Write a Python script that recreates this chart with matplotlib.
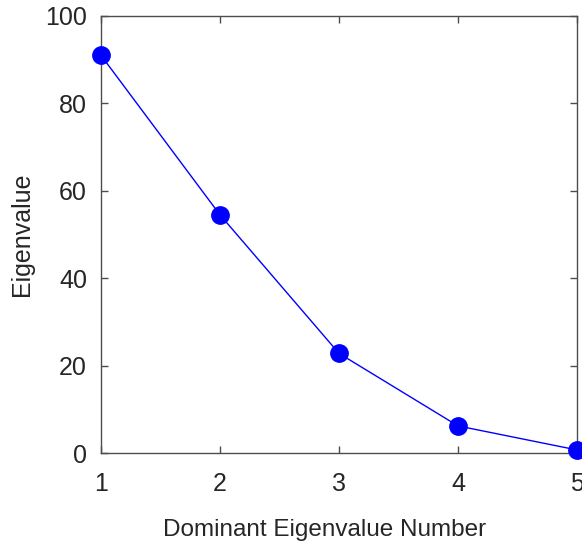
import matplotlib
matplotlib.use("Agg")
import matplotlib.pyplot as plt

# Scree data: eigenvalue for each dominant mode
eig_number = [1, 2, 3, 4, 5]
eigenvalues = [91.0, 54.5, 22.8, 6.2, 0.7]
x_ticks = [1, 2, 3, 4, 5]
y_ticks = [0, 20, 40, 60, 80, 100]

plt.rcParams['font.family'] = ['Liberation Sans', 'DejaVu Sans']

fig = plt.figure(figsize=(5.82, 5.42), dpi=100)
ax = fig.add_axes([0.1735, 0.1642, 0.8179, 0.8063])

ax.plot(eig_number, eigenvalues, color='#0000ff', linewidth=1.0,
        marker='o', markersize=12.5, markerfacecolor='#0000ff',
        markeredgecolor='#0000ff', clip_on=False, zorder=3)

ax.set_xlim(1, 5)
ax.set_ylim(0, 100)
ax.set_xticks(x_ticks)
ax.set_yticks(y_ticks)

text_color = '#262626'
spine_color = '#4d4d4d'
for s in ax.spines.values():
    s.set_color(spine_color)
    s.set_linewidth(1.0)

ax.tick_params(direction='in', top=True, right=True, length=5, width=1.0,
               color=spine_color, labelsize=18, labelcolor=text_color)
ax.tick_params(axis='x', pad=14)
ax.tick_params(axis='y', pad=10)

ax.set_xlabel('Dominant Eigenvalue Number', fontsize=17.5, color=text_color,
              labelpad=16, x=0.4706)
ax.set_ylabel('Eigenvalue', fontsize=18, color=text_color, labelpad=8)

fig.savefig('out.png', dpi=100)
